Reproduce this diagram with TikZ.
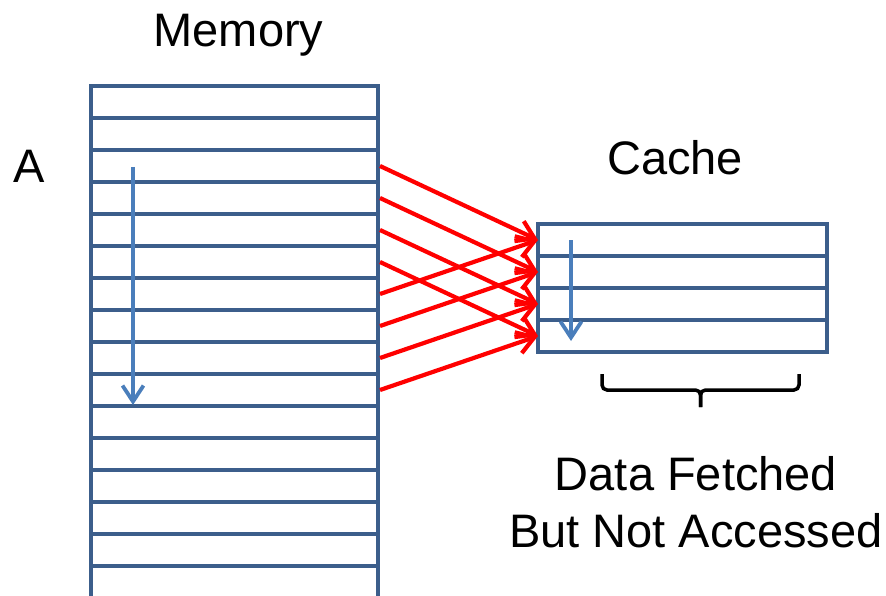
\documentclass[tikz,border=0pt]{standalone}
\usepackage{fontspec}
\setmainfont{Liberation Sans}
\usetikzlibrary{arrows.meta}

\definecolor{memblue}{HTML}{3C5E8B}
\definecolor{walkblue}{HTML}{4A7EBB}

\begin{document}
\begin{tikzpicture}[x=1pt, y=-1pt,
        cell/.style={draw=memblue, line width=4pt},
        fetch/.style={draw=red, line width=4.2pt, -{Straight Barb[length=17pt,width=22pt]}},
        walk/.style={draw=walkblue, line width=3.8pt, -{Straight Barb[length=16pt,width=21pt]}},
        brk/.style={draw=black, line width=3.5pt, rounded corners=5pt},
        txt/.style={font=\fontsize{47}{54}\selectfont, anchor=base, inner sep=0pt}
    ]
    \useasboundingbox (0,0) rectangle (886,596);

    \def\r{32}
    \def\mx{91}
    \def\my{86}
    \def\mw{287}
    \def\cx{538}
    \def\cy{224}
    \def\cw{289}

    \draw[cell] (\mx,600) -- (\mx,\my) -- (\mx+\mw,\my) -- (\mx+\mw,600);
    \foreach \i in {1,...,15}{
        \draw[cell] (\mx,{\my+\i*\r}) -- (\mx+\mw,{\my+\i*\r});
    }

    \draw[cell] (\cx,\cy) rectangle (\cx+\cw,\cy+4*\r);
    \foreach \j in {1,2,3}{
        \draw[cell] (\cx,{\cy+\j*\r}) -- (\cx+\cw,{\cy+\j*\r});
    }

    \foreach \i in {1,...,8}{
        \coordinate (m\i) at (\mx+\mw+2,{\my+(\i+1.5)*\r});
    }
    \foreach \j in {1,...,4}{
        \coordinate (c\j) at (\cx,{\cy+(\j-0.5)*\r});
    }

    \foreach \j in {1,...,4}{
        \pgfmathtruncatemacro\k{\j+4}
        \draw[fetch] (m\j) -- (c\j);
        \draw[fetch] (m\k) -- (c\j);
    }

    \coordinate (mwalk-start) at (\mx+42,167);
    \coordinate (mwalk-end) at (\mx+42,405);
    \coordinate (cwalk-start) at (\cx+33,240);
    \coordinate (cwalk-end) at (\cx+33,341);
    \draw[walk] (mwalk-start) -- (mwalk-end);
    \draw[walk] (cwalk-start) -- (cwalk-end);

    \draw[brk] (602,374) |- (700.5,390) -- (700.5,407);
    \draw[brk] (799,374) |- (700.5,390) -- (700.5,407);

    \node[txt] (memtitle) at (238.5,47) {Memory};
    \node[txt] (addr) at (29,183) {A};
    \node[txt] (cachetitle) at (675,175) {Cache};
    \node[txt] (unused1) at (696,490) {Data Fetched};
    \node[txt] (unused2) at (696,547) {But Not Accessed};
\end{tikzpicture}
\end{document}
